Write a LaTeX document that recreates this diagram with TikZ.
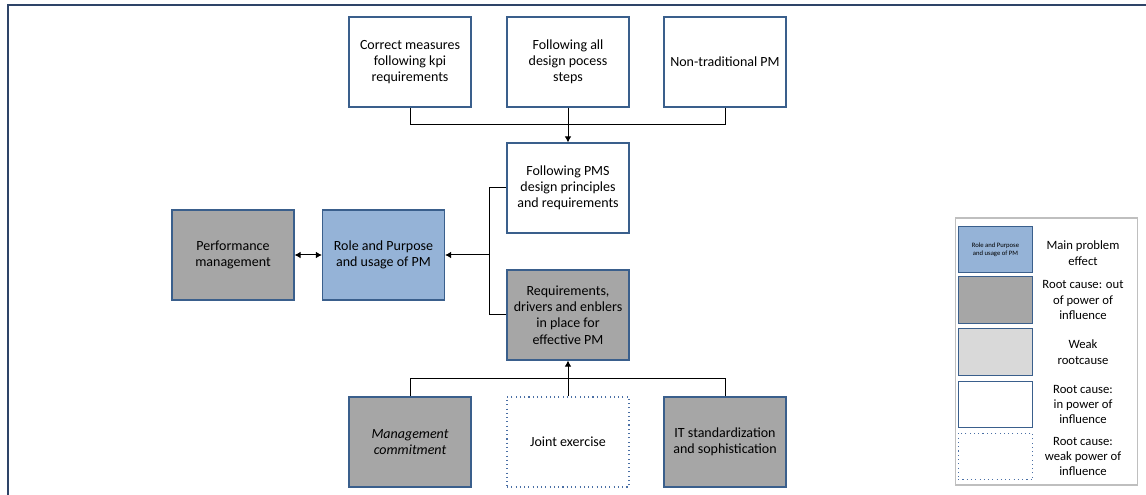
\documentclass[tikz,border=0pt]{standalone}
\usepackage{fontspec}
\setmainfont{Carlito}
\usetikzlibrary{arrows.meta}
\definecolor{bxborder}{HTML}{3A5F8C}
\definecolor{bluefill}{HTML}{95B3D7}
\definecolor{grayfill}{HTML}{A6A6A6}
\definecolor{lightfill}{HTML}{D9D9D9}
\definecolor{legborder}{HTML}{BFBFBF}
\definecolor{frame}{HTML}{2E4468}
\definecolor{dotcol}{HTML}{4A6FA5}
\tikzset{
  px/.style={x=0.75pt,y=-0.75pt},
  box/.style={draw=bxborder, line width=0.9pt, minimum width=91.5pt, minimum height=67.5pt,
    align=center, inner sep=2pt,
    font=\fontsize{10.5}{12.2}\selectfont},
  whitebox/.style={box, fill=white},
  graybox/.style={box, fill=grayfill},
  bluebox/.style={box, fill=bluefill},
  dotbox/.style={box, draw=dotcol, line width=0.8pt, dash pattern=on 0.8pt off 2.4pt},
  conn/.style={draw=black, line width=0.75pt},
  tip/.style={-{Latex[length=4.5pt,width=5pt]}},
  legbox/.style={draw=bxborder, line width=0.9pt, minimum width=56pt, minimum height=35pt, inner sep=1pt},
  legtext/.style={align=center, font=\fontsize{9.5}{11.5}\selectfont},
}
\begin{document}
\begin{tikzpicture}[px]
\useasboundingbox (0,0) rectangle (1146,495);
% outer frame (top and left edges)
\draw[frame, line width=1.5pt] (8,495) -- (8,5) -- (1146,5);

% top row
\node[whitebox] (c1) at (410,62) {Correct measures\\following kpi\\requirements};
\node[whitebox] (c2) at (568,62) {Following all\\design pocess\\steps};
\node[whitebox] (c3) at (725,62) {Non-traditional PM};

% middle
\node[whitebox] (pms) at (568,188) {Following PMS\\design principles\\and requirements};
\node[graybox] (req) at (568,315) {Requirements,\\drivers and enblers\\in place for\\effective PM};
\node[bluebox] (role) at (383.5,255) {Role and Purpose\\and usage of PM};
\node[graybox] (perf) at (233,255) {Performance\\management};

% bottom row
\node[graybox] (mgmt) at (410,442) {\itshape Management\\\itshape commitment};
\node[dotbox] (joint) at (568,442) {Joint exercise};
\node[graybox] (it) at (725,442) {IT standardization\\and sophistication};

% connectors top
\coordinate (j1) at (568,125);
\draw[conn] (c1.south) |- (j1);
\draw[conn] (c3.south) |- (j1);
\draw[conn, tip] (c2.south) -- (pms.north);

% bracket to role
\coordinate (b) at (489,255);
\draw[conn] (pms.west) -| (b);
\draw[conn] (req.west) -| (b);
\draw[conn, tip] (b) -- (role.east);

% perf <-> role
\draw[conn, {Latex[length=4.5pt,width=5pt]}-{Latex[length=4.5pt,width=5pt]}] (perf.east) -- (role.west);

% bottom connectors
\coordinate (j2) at (568,378);
\draw[conn] (mgmt.north) |- (j2);
\draw[conn] (it.north) |- (j2);
\draw[conn, tip] (joint.north) -- (req.south);

% legend
\node[draw=legborder, line width=1.2pt, minimum width=136.5pt, minimum height=200pt, inner sep=0pt] (leg) at (1046.5,351.5) {};
\node[legbox, fill=bluefill, align=center, font=\fontsize{5}{5.8}\selectfont] (l1) at (995.5,249.5) {Role and Purpose\\and usage of PM};
\node[legbox, fill=grayfill] (l2) at (995.5,300) {};
\node[legbox, fill=lightfill] (l3) at (995.5,352) {};
\node[legbox, fill=white] (l4) at (995.5,404.5) {};
\node[legbox, draw=dotcol, line width=0.8pt, dash pattern=on 0.8pt off 2.4pt] (l5) at (995.5,456.5) {};
\node[legtext] (t1) at (1083,253) {Main problem\\effect};
\node[legtext] (t2) at (1083,300) {Root cause: out\\of power of\\influence};
\node[legtext] (t3) at (1083,352) {Weak\\rootcause};
\node[legtext] (t4) at (1083,404.5) {Root cause:\\in power of\\influence};
\node[legtext] (t5) at (1083,456.5) {Root cause:\\weak power of\\influence};
\end{tikzpicture}
\end{document}
